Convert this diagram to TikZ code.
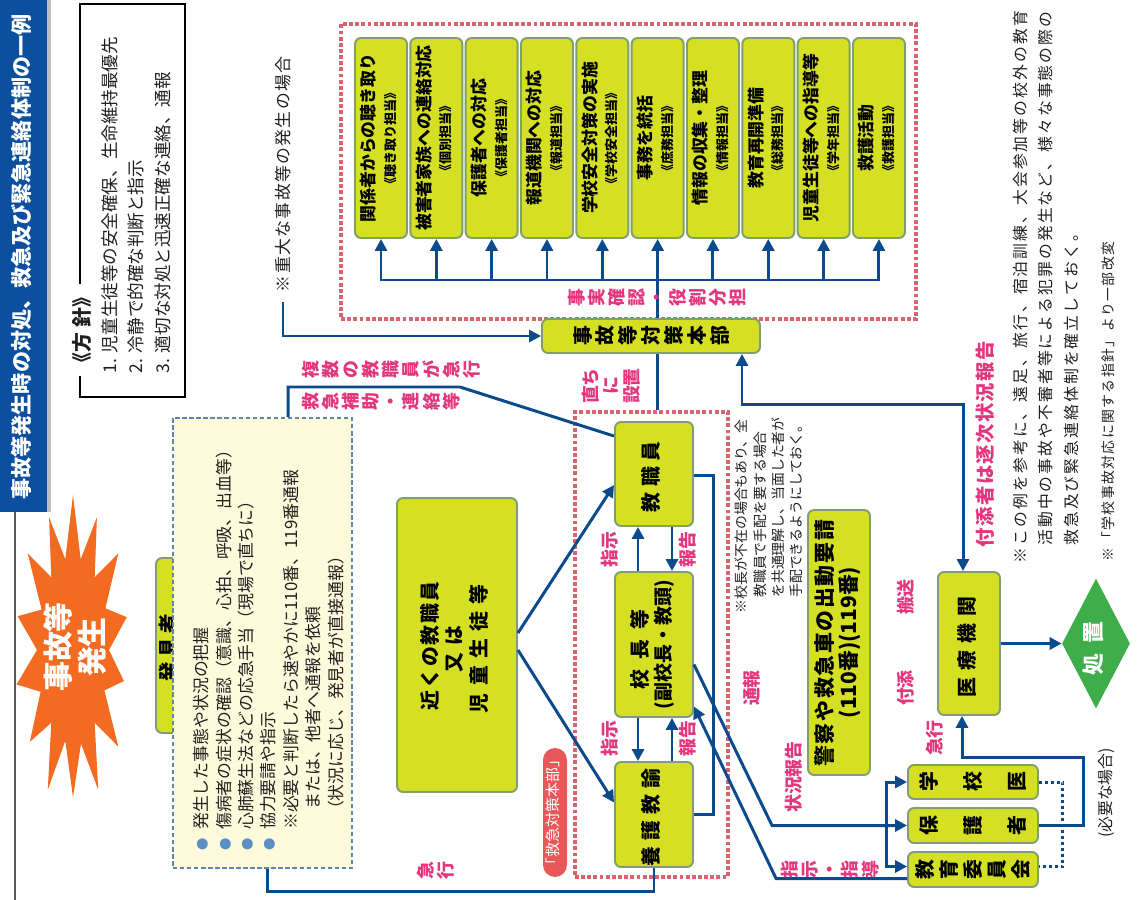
\documentclass[tikz,border=0pt]{standalone}
\usepackage{fontspec}
\setmainfont{Noto Sans CJK JP}
\usepackage{graphicx}
\usetikzlibrary{arrows.meta,shapes.geometric,calc}
\pgfdeclarelayer{bg}
\pgfsetlayers{bg,main}
\definecolor{yg}{HTML}{D5DF24}
\definecolor{ygb}{HTML}{7F9F6E}
\definecolor{navy}{HTML}{0B4A8C}
\definecolor{pk}{HTML}{E4367F}
\definecolor{pkdot}{HTML}{D9646E}
\definecolor{grn}{HTML}{3DAE4A}
\definecolor{lblue}{HTML}{8DC8E8}
\definecolor{orng}{HTML}{F26B21}
\definecolor{tblue}{HTML}{0B4F9E}
\definecolor{cream}{HTML}{FDFBDC}
\definecolor{crb}{HTML}{5F86A6}
\definecolor{bul}{HTML}{5B8EC2}
\definecolor{redl}{HTML}{E8585A}
\definecolor{txt}{HTML}{231F20}
\newcommand\fs[2]{\fontsize{#1pt}{#2pt}\selectfont}
\newcommand\rot[2][c]{\rotatebox{90}{\begin{tabular}{@{}#1@{}}#2\end{tabular}}}
\newcommand\BL{\makebox[1.2em][l]{\textcolor{bul}{\fs{7}{8}●}}}
\ExplSyntaxOn
\NewDocumentCommand\LS{mm}{\tl_map_inline:nn{#2}{##1\hspace{#1}}\hspace{-#1}}
\NewDocumentCommand\tate{m}{\rotatebox{90}{\vbox{\tl_map_inline:nn{#1}{\hbox_to_wd:nn{1.1em}{\hss##1\hss}}}}}
\ExplSyntaxOff
\begin{document}
\begin{tikzpicture}[x=0.02cm,y=-0.02cm,
  tx/.style={inner sep=0pt,outer sep=0pt,text=txt},
  ybox/.style={draw=ygb,fill=yg,line width=1.1pt,rounded corners=0.12cm,inner sep=0pt,text=black},
  conn/.style={draw=navy,line width=1.7pt},
  arr/.style={conn,-{Triangle[length=0.24cm,width=0.24cm]}},
  darr/.style={conn,{Triangle[length=0.24cm,width=0.24cm]}-{Triangle[length=0.24cm,width=0.24cm]}},
  fat/.style={line width=0.32cm,draw=grn,-{Stealth[length=0.48cm,width=0.7cm,inset=0.2cm]}},
  pinkfr/.style={draw=pkdot,line width=2.2pt,dash pattern=on 2.2pt off 1.3pt,inner sep=0pt},
  lab/.style={inner sep=0pt,outer sep=0pt,text=pk,font=\bfseries\fs{10.2}{11.45}},
]
\useasboundingbox (0,0) rectangle (1137,900);
\fill[white] (0,0) rectangle (1137,900);
% title
\fill[black!25] (47,0) rectangle (51,512);
\fill[tblue] (0,0) rectangle (47,512);
\draw[gray!70!black,line width=0.9pt] (15,512) -- (15,900);
\node[tx,text=white,font=\bfseries\fs{12}{14}] (title) at (24,257) {\rot{事故等発生時の対処、救急及び緊急連絡体制の一例}};
% policy
\node[draw=black,line width=1.2pt,minimum width=2.1cm,minimum height=7.86cm,inner sep=0pt] (policy) at (132.5,200.5) {};
\node[tx,fill=white,inner sep=2pt,font=\bfseries\fs{11.3}{13}] (policyh) at (84,330) {\rot{《方\hspace{0.25em}針》}};
\node[tx,anchor=south west,font=\fs{10}{15}] (policyt) at (98,373) {\rot[l]{1. 児童生徒等の安全確保、生命維持最優先\\2. 冷静で的確な判断と指示\\3. 適切な対処と迅速正確な連絡、通報}};
% star
\fill[orng] (73,495) -- (80.7,559.3) -- (96.9,517.3) -- (94.7,577.3) -- (118.3,553.4) -- (105.4,608.3) -- (126.7,617.2) -- (109,650) -- (123.9,681) -- (104.4,690.4) -- (118.3,746.6) -- (94.7,722.7) -- (98.2,789.7) -- (81,743.7) -- (73,797.3) -- (65.3,740.7) -- (47.8,789.7) -- (51.3,722.7) -- (29.9,741.8) -- (40.6,691.7) -- (16.5,684.5) -- (37,650) -- (17.6,616.2) -- (41.6,609.6) -- (27.7,553.4) -- (51.3,577.3) -- (49.1,517.3) -- (65.3,559.3) -- cycle;
\node[tx,text=white,font=\bfseries\fs{17}{17}] (start) at (78,647) {\rot{事故等\\発生}};
\coordinate (starR) at (112,645);
\coordinate (arrowY) at (0,645);
% frames
\node[pinkfr,minimum width=11.5cm,minimum height=5.9cm] (roleframe) at (628.5,171.5) {};
\node[pinkfr,minimum width=3.06cm,minimum height=9.3cm] (kyuframe) at (651.5,644.5) {};
% boxes
\node[ybox,minimum width=0.58cm,minimum height=3.5cm,font=\bfseries\fs{11}{13}] (hakken) at (170.5,645.5) {\rot{\LS{0.25em}{発見者}}};
\node[draw=crb,fill=cream,line width=1.1pt,dash pattern=on 2.5pt off 1.5pt,minimum width=3.58cm,minimum height=9cm,inner sep=0pt] (memo) at (262.5,643) {};
\node[tx,anchor=south west,font=\fs{9.6}{12.75}] (memot) at (192,850) {\rot[l]{\BL 発生した事態や状況の把握\\\BL 傷病者の症状の確認（意識、心拍、呼吸、出血等）\\\BL 心肺蘇生法などの応急手当（現場で直ちに）\\\BL 協力要請や指示\\\hspace{1.2em}※必要と判断したら速やかに110番、119番通報\\\hspace{2.4em}または、他者へ通報を依頼\\\hspace{1.9em}（状況に応じ、発見者が直接通報）}};
\node[ybox,minimum width=2.4cm,minimum height=5.88cm,font=\bfseries\fs{11.3}{13.6}] (chikaku) at (457,645) {\rot{\LS{0.1em}{近くの教職員}\\\LS{0.4em}{又は}\\\LS{0.37em}{児童生徒等}}};
\node[ybox,minimum width=1.56cm,minimum height=2.08cm,font=\bfseries\fs{11.3}{13.6}] (kyoshokuin) at (654,474) {\rot{\LS{0.3em}{教職員}}};
\node[ybox,minimum width=1.56cm,minimum height=2.9cm,font=\bfseries\fs{11.3}{13.6}] (kocho) at (654,644.5) {\rot{\LS{0.5em}{校長等}\\{\fs{10.8}{13.6}(副校長・教頭)}}};
\node[ybox,minimum width=1.56cm,minimum height=2.1cm,font=\bfseries\fs{11.3}{13.6}] (yogo) at (654,814.5) {\rot{\LS{0.3em}{養護教諭}}};
\node[ybox,minimum width=1.24cm,minimum height=5.3cm,font=\bfseries\fs{11.9}{13}] (keisatsu) at (839,642.5) {\rot{\LS{0.08em}{警察や救急車の出動要請}\\(110番)(119番)}};
\node[ybox,minimum width=4.36cm,minimum height=0.68cm,font=\bfseries\fs{11.3}{13}] (honbu) at (651,336) {\tate{事故等対策本部}};
\node[ybox,minimum width=1.24cm,minimum height=2.86cm,font=\bfseries\fs{11.3}{13}] (iryo) at (969,643.5) {\rot{\LS{0.35em}{医療機関}}};
\node[ybox,minimum width=2.6cm,minimum height=0.68cm,font=\bfseries\fs{11.3}{25}] (gakkoi) at (973,782) {\tate{学校医}};
\node[ybox,minimum width=2.6cm,minimum height=0.7cm,font=\bfseries\fs{11.3}{25}] (hogosha) at (973,825.5) {\tate{保護者}};
\node[ybox,minimum width=2.6cm,minimum height=0.7cm,font=\bfseries\fs{11.3}{13.6}] (kyoiku) at (973,869.5) {\tate{教育委員会}};
\node[diamond,aspect=0.52,fill=grn,minimum width=1.36cm,minimum height=2.6cm,inner sep=0pt,text=white,font=\bfseries\fs{12.5}{14}] (shochi) at (1096,643.5) {\rot{\LS{0.45em}{処置}}};
\node[fill=redl,rounded corners=0.24cm,minimum width=0.48cm,minimum height=2.58cm,inner sep=0pt,text=white,font=\fs{8.5}{10}] (kyulab) at (555,812.5) {\rot{「救急対策本部」}};
\foreach \i/\m/\s in {1/関係者からの聴き取り/聴き取り担当,2/被害者家族への連絡対応/個別担当,3/保護者への対応/保護者担当,4/報道機関への対応/報道担当,5/学校安全対策の実施/学校安全担当,6/事務を統括/庶務担当,7/情報の収集・整理/情報担当,8/教育再開準備/総務担当,9/児童生徒等への指導等/学年担当,10/救護活動/救護担当}{
  \node[ybox,minimum width=1.04cm,minimum height=4cm,font=\bfseries\fs{9.6}{11.9}] (role\i) at ({381+(\i-1)*55.33},138) {\rot{\m\\{\fs{7.4}{11.9}《\s》}}};
}
% fat arrows
\begin{pgfonlayer}{bg}
\draw[fat,draw=lblue,line width=0.32cm,-{Stealth[length=0.48cm,width=0.76cm,inset=0.2cm]}] ($(memo.east |- arrowY)+(0,-15)$) -- ($(keisatsu.west |- arrowY)+(0,-15)$);
\draw[fat] (starR) -- (hakken.west |- starR);
\draw[fat] (memo.east |- arrowY) -- (chikaku.west |- arrowY);
\draw[fat] (chikaku.east |- arrowY) -- (kocho.west |- arrowY);
\draw[fat] (kocho.east |- arrowY) -- (keisatsu.west |- arrowY);
\draw[fat] (keisatsu.east |- arrowY) -- (iryo.west |- arrowY);
\end{pgfonlayer}
% role bus
\draw[conn,line cap=rect] (role1.south |- 0,280) -- (role10.south |- 0,280);
\foreach \i in {1,...,10}{\draw[arr] (role\i.south |- 0,280) -- (role\i.south);}
\draw[conn] (role6.south |- honbu.north) -- (role6.south |- 0,280);
\draw[conn] (role6.south |- honbu.south) -- (role6.south |- kyuframe.north);
% notes
\node[tx,anchor=south,font=\fs{9.6}{11}] (note1) at (285,292) {\rot{\LS{0.08em}{※重大な事故等の発生の場合}}};
\draw[arr] ($(note1.south)+(-2,10)$) |- (honbu.west);
\node[tx,anchor=south west,font=\fs{7.9}{10.4}] (note2) at (734,613) {\rot[l]{※校長が不在の場合もあり、全\\\hspace{1.1em}教職員で手配を要する場合\\\hspace{1.1em}を共通理解し、当面した者が\\\hspace{1.1em}手配できるようにしておく。}};
\node[tx,anchor=south west,font=\fs{9}{14.7}] (note3) at (1008,563) {\rot[l]{\LS{0.13em}{※この例を参考に、遠足、旅行、宿泊訓練、大会参加等の校外の教育}\\\hspace{1.1em}\LS{0.13em}{活動中の事故や不審者等による犯罪の発生など、様々な事態の際の}\\\hspace{1.1em}\LS{0.13em}{救急及び緊急連絡体制を確立しておく。}}};
\node[tx,anchor=south,font=\fs{7.9}{10}] (src) at (1110,561) {\rot{\LS{0.1em}{※「学校事故対応に関する指針」より一部改変}}};
\node[tx,font=\fs{9}{11}] (hitsuyo) at (1108,793) {\rot{(必要な場合)}};
% connectors
\draw[conn] ($(memo.north west)+(116,0)$) |- (460,387) -- ($(kyoshokuin.north west)+(0,15)$);
\draw[conn] ($(memo.south west)+(95,0)$) -- ++(0,23) -| (yogo.south);
\draw[arr] ($(chikaku.east)+(0,-12)$) -- ($(kyoshokuin.west)+(0,11)$);
\draw[arr] ($(chikaku.east)+(0,5)$) -- ($(yogo.west)+(0,-12)$);
\draw[arr] ($(kocho.north)+(-16,0)$) -- ($(kyoshokuin.south)+(-16,0)$);
\draw[arr] ($(kyoshokuin.south)+(18,0)$) -- ($(kocho.north)+(18,0)$);
\draw[arr] ($(kocho.south)+(-16,0)$) -- ($(yogo.north)+(-16,0)$);
\draw[arr] ($(yogo.north)+(18,0)$) -- ($(kocho.south)+(18,0)$);
\draw[conn] ($(kyoshokuin.east)+(0,1)$) -- ++(20,0) |- (yogo.east);
\draw[arr] ($(kocho.east)+(0,20)$) -- ($(hogosha.west)+(-135,0)$) -- (hogosha.west);
\draw[arr] ($(gakkoi.west)+(-21,0)$) |- ($(kyoiku.west)+(0,-3)$);
\draw[arr] ($(kyoiku.west)+(-21,-3)$) |- (gakkoi.west);
\draw[arr] ($(kyoiku.west)+(0,9)$) -- ++(-131,0) -- ($(kocho.east)+(0,62)$);
\draw[darr] ($(honbu.south)+(91,0)$) |- ($(iryo.north)+(-6,-167)$) -- ($(iryo.north)+(-6,0)$);
\draw[arr] (hogosha.east) -- ++(45,0) |- ($(iryo.south)+(-7,42)$) -- ($(iryo.south)+(-7,0)$);
\draw[draw=navy,line width=1.7pt,dash pattern=on 1.7pt off 1.7pt] (gakkoi.east) -- ++(24,0) |- ($(kyoiku.east)+(0,-3)$);
\draw[arr] (iryo.east) -- (shochi.west);
% labels
\node[lab] (l1) at (391,370) {\tate{複数の教職員が急行}};
\node[lab] (l2) at (381,402) {\tate{救急補助・連絡等}};
\node[lab,font=\bfseries\fs{10.2}{11.3}] (l3) at (613,386) {\rot{直ち\\に\\設置}};
\node[lab] (l4) at (657,298) {\tate{事実確認・役割分担}};
\node[lab] (l5) at (611.5,549.5) {\rot{指示}};
\node[lab] (l6) at (690,549.5) {\rot{報告}};
\node[lab] (l7) at (611.5,738.5) {\rot{指示}};
\node[lab] (l8) at (690,738.5) {\rot{報告}};
\node[lab] (l9) at (754,688) {\rot{通報}};
\node[lab] (l10) at (796,777) {\rot{状況報告}};
\node[lab] (l11) at (830,870) {\tate{指示・指導}};
\node[lab] (l12) at (908,597) {\rot{搬送}};
\node[lab] (l13) at (908,688) {\rot{付添}};
\node[lab] (l14) at (937,738) {\rot{急行}};
\node[lab] (l15) at (436,871) {\tate{急行}};
\node[lab,anchor=south,font=\bfseries\fs{11}{13}] (l16) at (988,547) {\rot{\LS{0.07em}{付添者は逐次状況報告}}};
\end{tikzpicture}
\end{document}
